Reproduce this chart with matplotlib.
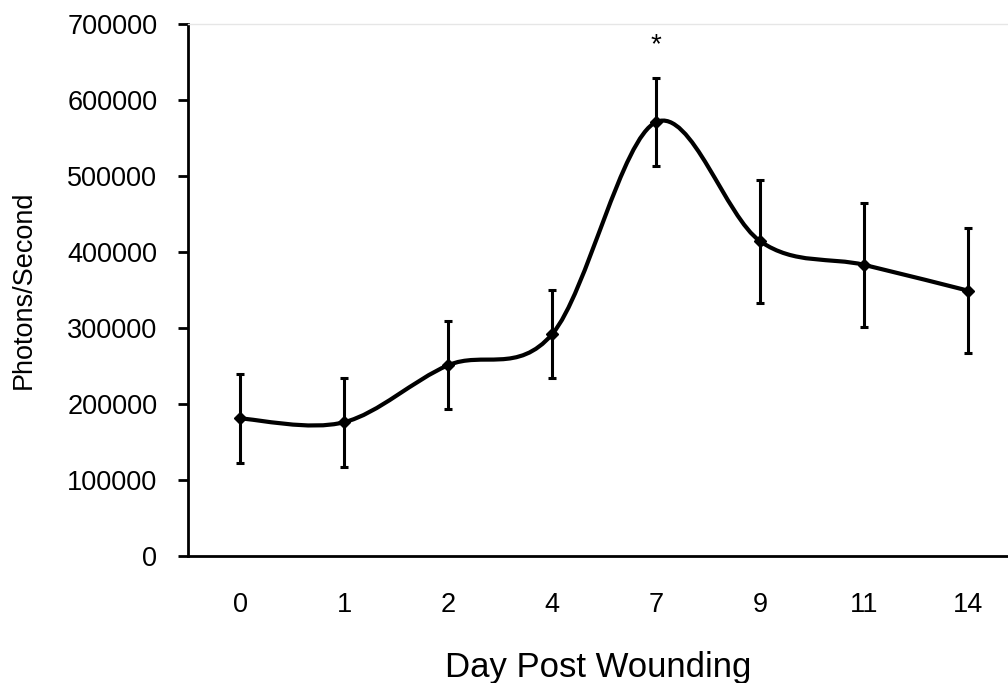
import matplotlib
matplotlib.use("Agg")
import matplotlib.pyplot as plt
import numpy as np
from matplotlib.path import Path
from matplotlib.patches import PathPatch

# data
days = ["0", "1", "2", "4", "7", "9", "11", "14"]
photons = [181000, 176000, 251000, 292000, 571000, 414000, 383000, 349000]
sem = [58000, 58500, 58000, 58000, 58000, 81000, 82000, 82000]
yticks = [0, 100000, 200000, 300000, 400000, 500000, 600000, 700000]

plt.rcParams['font.family'] = ['Liberation Sans', 'DejaVu Sans']

fig = plt.figure(figsize=(10.08, 6.83), dpi=100)
ax = fig.add_axes([188/1008, 1-556/683, 1-188/1008, (556-24)/683])

x = np.arange(len(days))
y = np.array(photons, dtype=float)

# smoothed line like excel (catmull-rom style bezier)
verts = [(x[0], y[0])]
codes = [Path.MOVETO]
for i in range(len(x) - 1):
    x0, y0 = (x[i-1], y[i-1]) if i > 0 else (x[i], y[i])
    x3, y3 = (x[i+2], y[i+2]) if i + 2 < len(x) else (x[i+1], y[i+1])
    c1 = (x[i] + (x[i+1] - x0) / 6, y[i] + (y[i+1] - y0) / 6)
    c2 = (x[i+1] - (x3 - x[i]) / 6, y[i+1] - (y3 - y[i]) / 6)
    verts += [c1, c2, (x[i+1], y[i+1])]
    codes += [Path.CURVE4] * 3
ax.add_patch(PathPatch(Path(verts, codes), fill=False, lw=3.0, color='black',
                       capstyle='round', joinstyle='round'))

ax.errorbar(x, y, yerr=sem, fmt='D', ms=6, color='black', ecolor='black',
            elinewidth=2.2, capsize=3, capthick=2.2)

ax.text(x[4], 672000, '*', ha='center', va='center', fontsize=20)

ax.set_xlim(-0.5, 7.38)
ax.set_ylim(0, 700000)
ax.set_yticks(yticks)
ax.set_yticklabels([str(v) for v in yticks], fontsize=19.5)
ax.set_xticks(x)
ax.set_xticklabels(days, fontsize=19.5)
ax.tick_params(axis='y', length=7, width=2, direction='out', pad=15)
ax.tick_params(axis='x', length=0, pad=26)

ax.spines['left'].set_linewidth(2)
ax.spines['bottom'].set_linewidth(2)
ax.spines['right'].set_visible(False)
ax.spines['top'].set_color('#e6e6e6')
ax.spines['top'].set_linewidth(1)

ax.set_ylabel('Photons/Second', fontsize=19.5, labelpad=22)
ax.set_xlabel('Day Post Wounding', fontsize=25, labelpad=24)

fig.savefig('out.png', dpi=100)
